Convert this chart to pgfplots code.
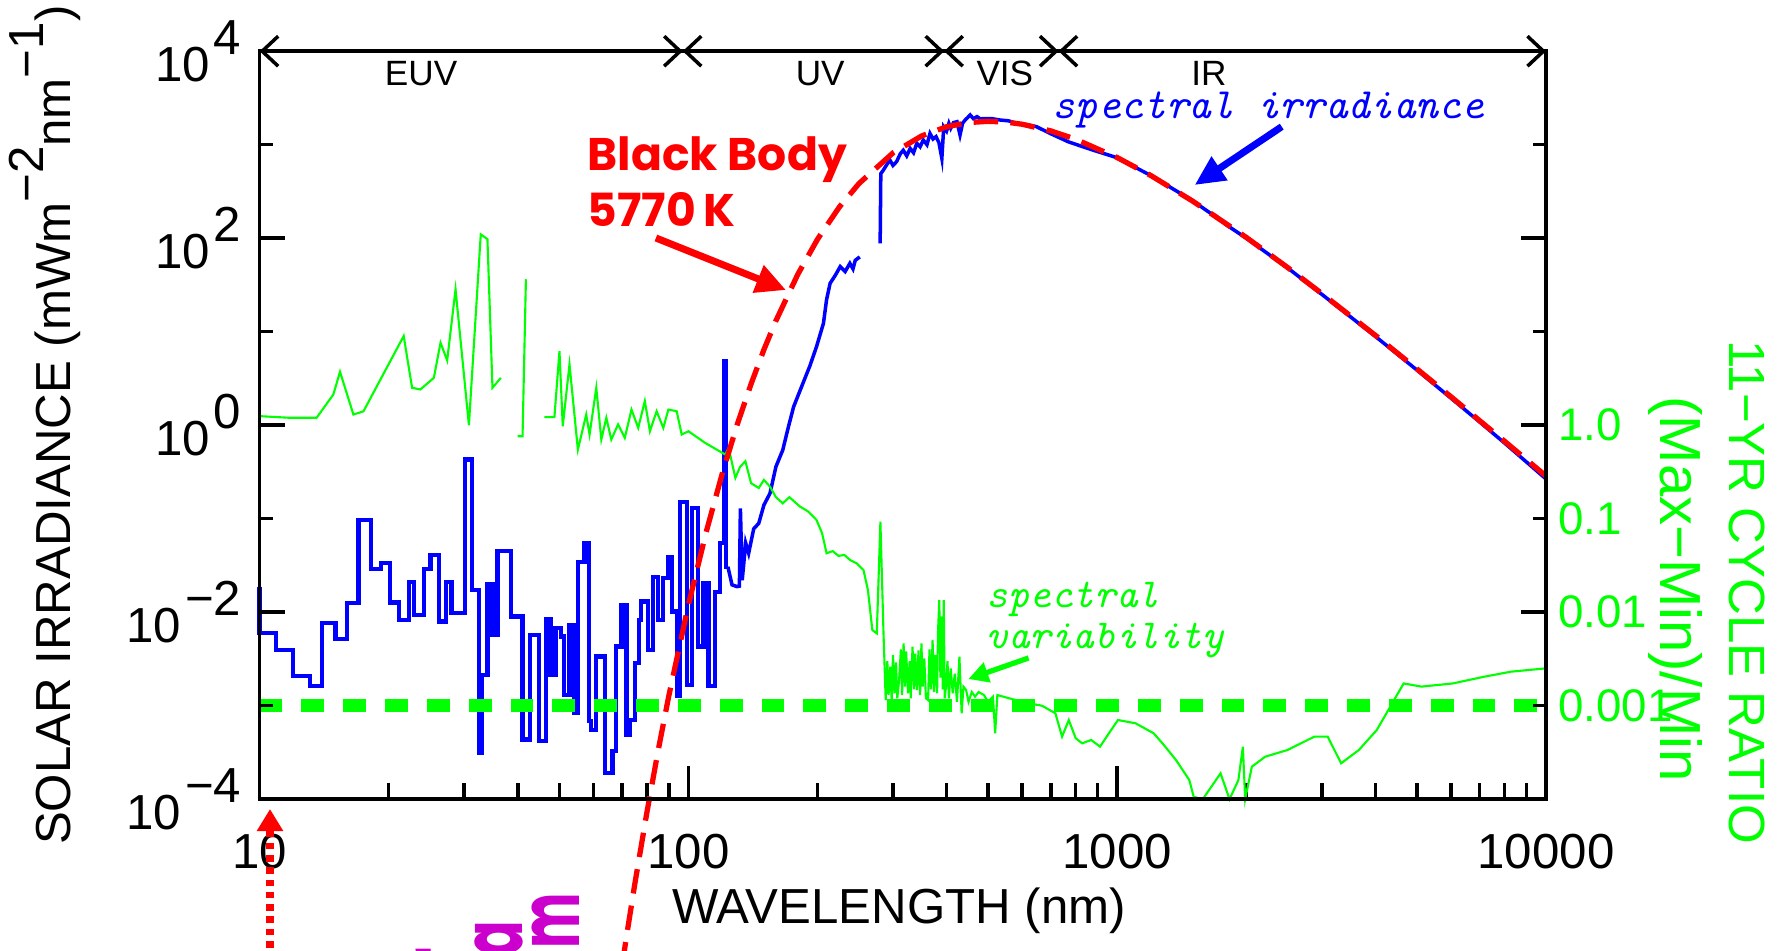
\documentclass[border=0pt]{standalone}
\usepackage{fontspec}
\setmainfont{Liberation Sans}
\newfontfamily\comic{Poppins}
\usepackage{pgfplots}
\pgfplotsset{compat=1.18}
\usetikzlibrary{arrows.meta}
\definecolor{sgreen}{HTML}{00FF00}
\definecolor{sblue}{HTML}{0000FF}
\definecolor{sred}{HTML}{FF0000}
\definecolor{smag}{HTML}{CC00CC}
\newcommand\pw[1]{10\hspace{0.08em}\raisebox{0.55em}{#1}}

\begin{document}
\begin{tikzpicture}
% data, bottom ticks, labels
\begin{axis}[scale only axis, width=12.864cm, height=7.48cm,
  at={(2.596cm,1.508cm)}, anchor=south west,
  xmode=log, ymode=log, xmin=10, xmax=10000, ymin=1e-4, ymax=1e4,
  axis line style={line width=1pt}, tick style={line width=1pt, black},
  tick align=inside, clip=false,
  xtick={10,100,1000,10000}, xticklabels={10,100,1000,10000},
  minor xtick={20,30,40,50,60,70,80,90,200,300,400,500,600,700,800,900,2000,3000,4000,5000,6000,7000,8000,9000},
  xtick pos=bottom, ytick=\empty,
  major tick length=0.33cm, minor tick length=0.16cm,
  xticklabel style={yshift=-0.23cm, font=\fontsize{14}{16}\selectfont},
  xlabel={WAVELENGTH (nm)},
  xlabel style={at={(axis description cs:0.497,-0.1497)}, anchor=center, font=\fontsize{14}{16}\selectfont},
  ylabel={SOLAR IRRADIANCE (mWm\raisebox{0.55em}{−2}nm\raisebox{0.55em}{−1})},
  ylabel style={at={(axis description cs:-0.1668,0.5)}, anchor=center, font=\fontsize{14}{16}\selectfont}]

% EUV histogram
\addplot[sblue, line width=1.2pt, const plot] coordinates {
(10,1.88e-2) (10.0,5.97e-3) (10.94,3.96e-3) (11.97,2.09e-3) (13.10,1.64e-3) (14.00,7.63e-3)
(15.04,5.19e-3) (15.96,1.25e-2) (17.00,9.68e-2) (18.20,2.90e-2) (19.18,3.33e-2) (20.17,1.27e-2)
(21.17,8.28e-3) (22.27,2.12e-2) (22.88,9.37e-3) (24.15,2.88e-2) (25.03,4.09e-2) (26.18,7.95e-3)
(27.24,2.12e-2) (28.03,9.75e-3) (30.13,0.430) (31.34,1.73e-2) (32.49,3.13e-4) (33.08,2.14e-3)
(33.99,2.01e-2) (34.92,5.73e-3) (35.87,4.55e-2) (38.54,8.99e-3) (41.04,4.34e-4) (42.70,5.73e-3)
(44.74,4.16e-4) (46.56,8.49e-3) (47.66,2.14e-3) (49.0,6.75e-3) (50.5,5.50e-3) (51.3,1.31e-3)
(52.8,7.33e-3) (54.0,8.35e-4) (55.23,3.47e-2) (57.26,5.46e-2) (58.6,6.81e-4) (59.36,5.55e-4)
(60.98,3.36e-3) (63.78,1.91e-4) (66.5,3.25e-4) (67.92,4.30e-3) (69.80,1.20e-2) (71.71,4.90e-4)
(73.01,7.10e-4) (74.99,2.86e-3) (76.63,8.28e-3) (77.6,1.30e-2) (80.58,3.96e-3) (82.79,2.40e-2)
(85.06,8.28e-3) (87.39,2.31e-2) (89.79,3.93e-2) (91.41,1.02e-2) (93.91,1.26e-3) (95.60,0.152)
(99.10,1.68e-3) (101.8,0.129) (105.5,4.30e-3) (108.4,2.04e-2) (111.4,1.61e-3) (115.5,1.66e-2)
(118.6,5.46e-2) (121.4,4.8) (122.2,3.07e-2) (123.6,3.07e-2)};

% spectral irradiance, UV to IR
\addplot[sblue, line width=1pt] coordinates {
(123.6,3.07e-2) (126.4,1.96e-2) (129.8,1.88e-2) (131.5,1.9e-2) (132.2,0.129) (133.5,2.2e-2)
(136,5.5e-2) (138.2,4.27e-2) (142,7.8e-2) (145.9,8.92e-2) (150,0.14) (155,0.187) (160,0.36)
(166,0.543) (171,0.95) (176,1.58) (185,2.81) (192,4.3) (199,6.92) (206.5,12.3) (210,22)
(214,32.9) (220,40.0) (226,49.7) (232,44.0) (238,53.8) (242,47) (245,58.0) (251,63.1)};
\addplot[sblue, line width=1pt] coordinates {
(280,88.1) (281,490) (285,537) (290,610) (295,685) (300,600) (306,661) (312,800) (317,871)
(323,760) (329,912) (335,820) (341,1035) (347,950) (353,1122) (360,1000) (366,1318) (372,1150)
(378,1219) (384,1050) (390,714) (394,1549) (400,1400) (405,1690) (409,1500) (415,1720) (423,1762)
(430,1271) (436,1700) (442,1837) (448,1950) (454,2080) (462,1900) (471,1995) (480,1880)
(488,1905) (510,1900) (533,1837) (558,1800) (583,1690) (615,1640) (648,1560) (698,1318)
(770,1072) (881,871) (1000,725) (1200,466) (1500,251) (1650,185) (1700,172) (1800,138)
(2000,100) (2500,47.9) (3000,25.1) (4000,8.91) (5000,3.89) (6000,1.95) (7000,1.084)
(8000,0.646) (10000,0.266)};

% 11-yr cycle ratio
\addplot[sgreen, line width=0.6pt] coordinates {
(10,1.25) (11.76,1.20) (13.58,1.20) (14.86,2.13) (15.40,3.73) (16.55,1.30) (17.47,1.41)
(21.68,8.99) (22.68,2.51) (23.71,2.41) (25.49,3.21) (26.42,7.62) (27.38,4.93) (28.64,28.4)
(30.77,1.00) (32.79,110) (33.99,97.6) (34.92,2.51) (36.52,3.21)};
\addplot[sgreen, line width=0.6pt] coordinates {(39.97,0.762) (41.04,0.762) (41.79,36.4)};
\addplot[sgreen, line width=0.6pt] coordinates {
(46.14,1.22) (48.70,1.22) (50.04,6.21) (50.93,0.976) (52.81,4.47) (55.24,0.548) (57.77,1.30)
(58.82,0.794) (60.98,2.51) (62.65,0.702) (64.36,1.20) (66.10,0.702) (68.55,1.02) (71.07,0.732)
(73.68,1.47) (76.38,0.936) (79.15,1.81) (81.33,0.862) (84.31,1.41) (87.40,0.936) (89.80,1.47)
(93.90,1.41) (96.47,0.794) (100.0,0.862) (109.4,0.647) (121.9,0.485) (124.1,0.572) (128.7,0.273)
(132,0.36) (135.8,0.411) (140,0.24) (145.9,0.213) (150,0.26) (155,0.220) (160,0.17) (166,0.146)
(172,0.17) (182,0.135) (190,0.12) (199,0.0968) (205,0.07) (210,0.0427) (217,0.045) (224,0.040)
(231,0.041) (238.2,0.0362) (246.9,0.0333) (256.0,0.0283) (262.2,0.0173) (268.5,6.45e-3)
(275.0,5.94e-3) (280.4,0.0930) (285.1,5.94e-3) (288.5,1.15e-3) (291,3.0e-3) (293,1.3e-3)
(295.6,2.62e-3) (298,1.1e-3) (300,3.5e-3) (302.7,1.36e-3) (305,2.9e-3) (307,1.2e-3)
(310.0,1.88e-3) (313,4.0e-3) (315,1.3e-3) (317.6,4.65e-3) (320,1.6e-3) (322,3.8e-3)
(325.2,1.36e-3) (328,3.0e-3) (330,1.2e-3) (333.2,4.28e-3) (336,1.5e-3) (338,3.6e-3)
(341.3,1.47e-3) (344,3.9e-3) (347,1.3e-3) (349.5,4.65e-3) (352,1.6e-3) (355,3.2e-3) (358,1.2e-3)
(362.2,1.15e-3) (365,4.0e-3) (368,1.5e-3) (371.1,5.04e-3) (374,1.4e-3) (377,3.5e-3)
(380.2,1.36e-3) (382,6e-3) (384.7,0.0135) (387,2e-3) (390,9e-3) (392,1.5e-3) (394.1,0.0135)
(396,1.2e-3) (398.8,1.60e-3) (402,3.0e-3) (405,1.2e-3) (409,2.5e-3) (413.4,1.36e-3) (418,2.2e-3)
(423,1.1e-3) (428.6,3.35e-3) (433.7,8.29e-4) (438,1.6e-3) (444.3,1.47e-3) (450,1.1e-3)
(458,1.4e-3) (466.1,1.25e-3) (475,1.4e-3) (488.9,1.30e-3) (500,1.1e-3)
(513.1,1.25e-3) (519.3,5.07e-4) (525.4,1.30e-3) (560,1.2e-3) (621.5,1.06e-3) (667.7,1.0e-3) (717.6,8.29e-4)
(743.9,4.67e-4) (771.1,7.03e-4) (800,4.5e-4) (828.3,3.96e-4) (869.4,4.30e-4) (911.9,3.65e-4) (956.4,5.07e-4)
(1004,7.03e-4) (1104,6.48e-4) (1216,5.07e-4) (1275,3.96e-4) (1371,2.63e-4) (1473,1.60e-4)
(1508,1.06e-4) (1583,1e-4) (1742,1.89e-4) (1828,1e-4) (1917,1.60e-4) (1964,3.65e-4) (1988,1e-4)
(2061,2.23e-4) (2214,2.85e-4) (2496,3.36e-4) (2883,4.67e-4) (3097,4.67e-4) (3328,2.42e-4)
(3661,3.36e-4) (4031,5.50e-4) (4332,9.76e-4) (4656,1.73e-3) (5123,1.60e-3) (6061,1.73e-3)
(7167,2.04e-3) (8277,2.31e-3) (10000,2.51e-3)};

% 0.1% level
\addplot[sgreen, line width=3.6pt, dash pattern=on 6.5pt off 5.4pt] coordinates {(10,1e-3) (10000,1e-3)};

% black body 5770 K
\addplot[sred, line width=1.5pt, dash pattern=on 7pt off 3.5pt] coordinates {
(70,1.63e-6) (72,3.80e-6) (75,1.24e-5) (80,7.18e-5) (85,3.31e-4) (90,1.27e-3) (100,1.20e-2)
(110,7.18e-2) (120,0.307) (130,1.02) (140,2.76) (150,6.43) (160,13.1) (180,41.2) (200,97.3)
(225,216) (250,385) (300,817) (350,1242) (400,1556) (450,1726) (500,1778) (550,1746) (600,1656)
(700,1406) (800,1143) (1000,729) (1200,466) (1500,249) (2000,102) (2500,48.4) (3000,25.6)
(4000,9.14) (5000,4.00) (6000,2.02) (7000,1.12) (8000,0.675) (10000,0.286)};

% spectral bands along the top
\draw[line width=1pt, {Straight Barb[length=0.16cm,width=0.3cm]}-{Straight Barb[length=0.16cm,width=0.3cm]}] (axis cs:10,1e4) -- (axis cs:97,1e4);
\draw[line width=1pt, {Straight Barb[length=0.16cm,width=0.3cm]}-{Straight Barb[length=0.16cm,width=0.3cm]}] (axis cs:97,1e4) -- (axis cs:395,1e4);
\draw[line width=1pt, {Straight Barb[length=0.16cm,width=0.3cm]}-{Straight Barb[length=0.16cm,width=0.3cm]}] (axis cs:395,1e4) -- (axis cs:730,1e4);
\draw[line width=1pt, {Straight Barb[length=0.16cm,width=0.3cm]}-{Straight Barb[length=0.16cm,width=0.3cm]}] (axis cs:730,1e4) -- (axis cs:10000,1e4);
\node[anchor=north, yshift=-0.09cm, inner sep=0pt, font=\fontsize{10}{12}\selectfont] at (axis cs:23.8,1e4) {EUV};
\node[anchor=north, yshift=-0.09cm, inner sep=0pt, font=\fontsize{10}{12}\selectfont] at (axis cs:203,1e4) {UV};
\node[anchor=north, yshift=-0.09cm, inner sep=0pt, font=\fontsize{10}{12}\selectfont] at (axis cs:547,1e4) {VIS};
\node[anchor=north, yshift=-0.09cm, inner sep=0pt, font=\fontsize{10}{12}\selectfont] at (axis cs:1637,1e4) {IR};

% annotations
\node[anchor=base west, inner sep=0pt, text=sred, font=\comic\bfseries\fontsize{13}{16}\selectfont] at (axis cs:58,536) {Black Body};
\node[anchor=base west, inner sep=0pt, text=sred, font=\comic\bfseries\fontsize{13}{16}\selectfont] at (axis cs:58,132) {5770\,K};
\draw[sred, line width=2pt, -{Triangle[length=0.3cm,width=0.28cm]}] (axis cs:84,100.5) -- (axis cs:168.9,27.9);
\node[anchor=base west, inner sep=0pt, text=sblue, font=\ttfamily\itshape\fontsize{12.3}{14}\selectfont] at (axis cs:705,1930) {spectral irradiance};
\draw[sblue, line width=2pt, -{Triangle[length=0.3cm,width=0.27cm]}] (axis cs:2419,1558) -- (axis cs:1516,370.7);
\node[anchor=base west, inner sep=0pt, text=sgreen, font=\ttfamily\itshape\fontsize{11.7}{14}\selectfont] at (axis cs:494,0.0111) {spectral};
\node[anchor=base west, inner sep=0pt, text=sgreen, font=\ttfamily\itshape\fontsize{11.7}{14}\selectfont] at (axis cs:494,4.14e-3) {variability};
\draw[sgreen, line width=1.5pt, -{Triangle[length=0.2cm,width=0.2cm]}] (axis cs:621.5,3.24e-3) -- (axis cs:449.6,1.93e-3);
\end{axis}

% left / right y ticks
\begin{axis}[scale only axis, width=12.864cm, height=7.48cm,
  at={(2.596cm,1.508cm)}, anchor=south west,
  xmode=log, ymode=log, xmin=10, xmax=10000, ymin=1e-4, ymax=1e4,
  axis line style={line width=1pt}, tick style={line width=1pt, black},
  tick align=inside, tick label style={font=\fontsize{14}{16}\selectfont},
  xtick=\empty,
  ytick={1e-4,1e-2,1,100,1e4}, minor ytick={1e-3,0.1,10,1000},
  yticklabels={\pw{−4},\pw{−2},\pw{0},\pw{2},\pw{4}},
  yticklabel style={xshift=-0.06cm},
  ytick pos=both, yticklabel pos=left,
  major tick length=0.25cm, minor tick length=0.13cm]
\end{axis}

% right-hand ratio scale
\begin{axis}[scale only axis, width=12.864cm, height=7.48cm,
  at={(2.596cm,1.508cm)}, anchor=south west,
  xmode=log, ymode=log, xmin=10, xmax=10000, ymin=1e-4, ymax=1e4,
  tick label style={font=\fontsize{13}{15}\selectfont},
  clip=false, axis x line=none, axis y line*=right, y axis line style={draw=none},
  xtick=\empty, ytick={1e-3,1e-2,1e-1,1}, yticklabels={0.001,0.01,0.1,1.0},
  ytick style={draw=none}, yticklabel style={text=sgreen}]
\node[rotate=-90, text=sgreen, font=\fontsize{14.5}{16}\selectfont] at (axis description cs:1.1563,0.277) {11−YR CYCLE RATIO};
\node[rotate=-90, text=sgreen, font=\fontsize{16.5}{18}\selectfont] at (axis description cs:1.1010,0.281) {(Max−Min)/Min};
\end{axis}

% marker below the axis and cut-off handwriting
\draw[sred, line width=2pt, dash pattern=on 1.9pt off 1.6pt, -{Triangle[length=0.22cm,width=0.25cm]}] (2.70,-0.1) -- (2.70,1.41);
\node[text=smag, rotate=90, xscale=0.62, inner sep=0pt, font=\comic\bfseries\fontsize{24}{24}\selectfont] at (5.56,0.29) {m};
\node[text=smag, rotate=90, xscale=0.62, inner sep=0pt, font=\comic\bfseries\fontsize{24}{24}\selectfont] at (4.99,0.11) {a};
\node[text=smag, rotate=90, xscale=0.62, inner sep=0pt, font=\comic\bfseries\fontsize{24}{24}\selectfont] at (4.40,-0.09) {r};

\pgfresetboundingbox
\path[use as bounding box] (0,0) rectangle (17.85,9.5);
\end{tikzpicture}
\end{document}
